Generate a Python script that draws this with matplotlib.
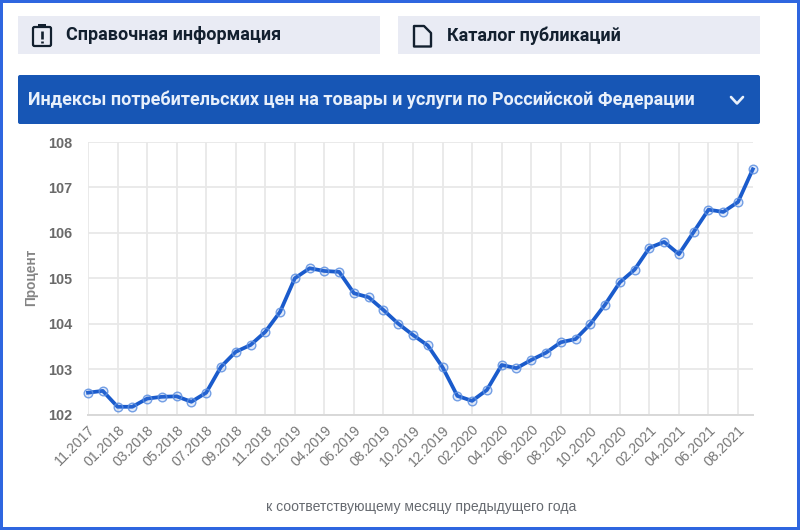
# -*- coding: utf-8 -*-
import matplotlib
matplotlib.use("Agg")
import matplotlib.pyplot as plt
from matplotlib.patches import FancyBboxPatch, Rectangle, Polygon

plt.rcParams["font.family"] = ["Liberation Sans", "DejaVu Sans"]

months = ["11.2017", "12.2017", "01.2018", "02.2018", "03.2018", "04.2018", "05.2018", "06.2018",
          "07.2018", "08.2018", "09.2018", "10.2018", "11.2018", "12.2018", "01.2019", "03.2019",
          "04.2019", "05.2019", "06.2019", "07.2019", "08.2019", "09.2019", "10.2019", "11.2019",
          "12.2019", "01.2020", "02.2020", "03.2020", "04.2020", "05.2020", "06.2020", "07.2020",
          "08.2020", "09.2020", "10.2020", "11.2020", "12.2020", "01.2021", "02.2021", "03.2021",
          "04.2021", "05.2021", "06.2021", "07.2021", "08.2021", "09.2021"]
cpi = [102.48, 102.52, 102.17, 102.17, 102.35, 102.39, 102.40, 102.28,
       102.48, 103.05, 103.38, 103.53, 103.82, 104.26, 105.00, 105.22,
       105.16, 105.14, 104.67, 104.58, 104.30, 104.00, 103.75, 103.52,
       103.04, 102.41, 102.30, 102.54, 103.09, 103.02, 103.20, 103.36,
       103.59, 103.66, 103.99, 104.42, 104.91, 105.19, 105.67, 105.80,
       105.53, 106.02, 106.51, 106.46, 106.68, 107.40]
y_ticks = [102, 103, 104, 105, 106, 107, 108]

W, H = 800, 530
fig = plt.figure(figsize=(W / 100, H / 100), dpi=100, facecolor="white")

# page furniture in pixel coordinates
bg = fig.add_axes([0, 0, 1, 1])
bg.set_xlim(0, W); bg.set_ylim(H, 0); bg.axis("off")

FRAME = "#2f66e0"
for r in [(0, 0, W, 3), (0, 527, W, 3), (0, 0, 3, H), (797, 0, 3, H)]:
    bg.add_patch(Rectangle(r[:2], r[2], r[3], fc=FRAME, ec="none"))

bg.add_patch(Rectangle((18, 16), 362, 38, fc="#e9ebf4", ec="none"))
bg.add_patch(Rectangle((398, 16), 362, 38, fc="#e9ebf4", ec="none"))
bg.add_patch(FancyBboxPatch((18, 75), 742, 49, boxstyle="round,pad=0,rounding_size=2", fc="#1756b5", ec="none"))

INK = "#13202f"
head = dict(family=["Roboto", "DejaVu Sans"], fontweight="bold", va="center")
bg.text(66, 35.5, "Справочная информация", fontsize=13, color=INK, **head)
bg.text(447, 35.5, "Каталог публикаций", fontsize=12.95, color=INK, **head)
bg.text(28, 100, "Индексы потребительских цен на товары и услуги по Российской Федерации",
        fontsize=13, color="#e8f0fb", **head)

# clipboard icon
bg.add_patch(FancyBboxPatch((33, 27), 18, 19, boxstyle="round,pad=0,rounding_size=1.5", fc="none", ec=INK, lw=1.6))
bg.add_patch(Rectangle((38, 24), 8, 4, fc=INK, ec="none"))
bg.plot([42, 42], [31, 38.5], color=INK, lw=1.9, solid_capstyle="butt")
bg.plot([42, 42], [40.5, 42.5], color=INK, lw=1.9, solid_capstyle="butt")
# document icon
bg.add_patch(Polygon([(414, 26), (424, 26), (431, 33), (431, 46.5), (414, 46.5)], closed=True,
                     fc="none", ec=INK, lw=1.7, joinstyle="round"))
# chevron
bg.plot([731, 737, 743], [97, 103.5, 97], color="#e8f0fb", lw=1.9, solid_capstyle="round")

# chart
L, R, T, B = 88, 752.8, 142, 414.5
ax = fig.add_axes([L / W, 1 - B / H, (R - L) / W, (B - T) / H])
ax.patch.set_alpha(0)
x = list(range(len(months)))
ax.plot(x, cpi, color="#1a5bcc", lw=2.7, marker="o", ms=6.2, mfc=(0.35, 0.55, 0.9, 0.18),
        mec=(0.36, 0.56, 0.88, 0.85), mew=1.0, clip_on=False, zorder=3, solid_joinstyle="round")
ax.set_xlim(0, len(months) - 1)
ax.set_ylim(102, 108)
ax.set_yticks(y_ticks)
ax.set_xticks(x[0:45:2])
ax.set_xticklabels(months[0:45:2], rotation=45, ha="right", rotation_mode="anchor",
                   fontsize=10.2, color="#777777")
ax.tick_params(axis="x", length=0, pad=6)
ax.tick_params(axis="y", length=0, pad=11, labelsize=10.4, labelcolor="#6a6a6a")
for t in ax.get_yticklabels():
    t.set_fontweight("bold")
ax.grid(True, color="#e8e8e8", lw=1.3)
ax.set_axisbelow(True)
for s in ["top", "right", "left"]:
    ax.spines[s].set_visible(False)
ax.spines["bottom"].set_color("#d8d8d8")
ax.spines["bottom"].set_linewidth(1.4)

bg.text(31, 277, "Процент", rotation=90, ha="center", va="center", fontsize=9.8,
        fontweight="bold", color="#858585")
bg.text(421, 507, "к соответствующему месяцу предыдущего года", ha="center", va="center",
        fontsize=10.1, color="#666a70")

fig.savefig("out.png", dpi=100, facecolor="white")
